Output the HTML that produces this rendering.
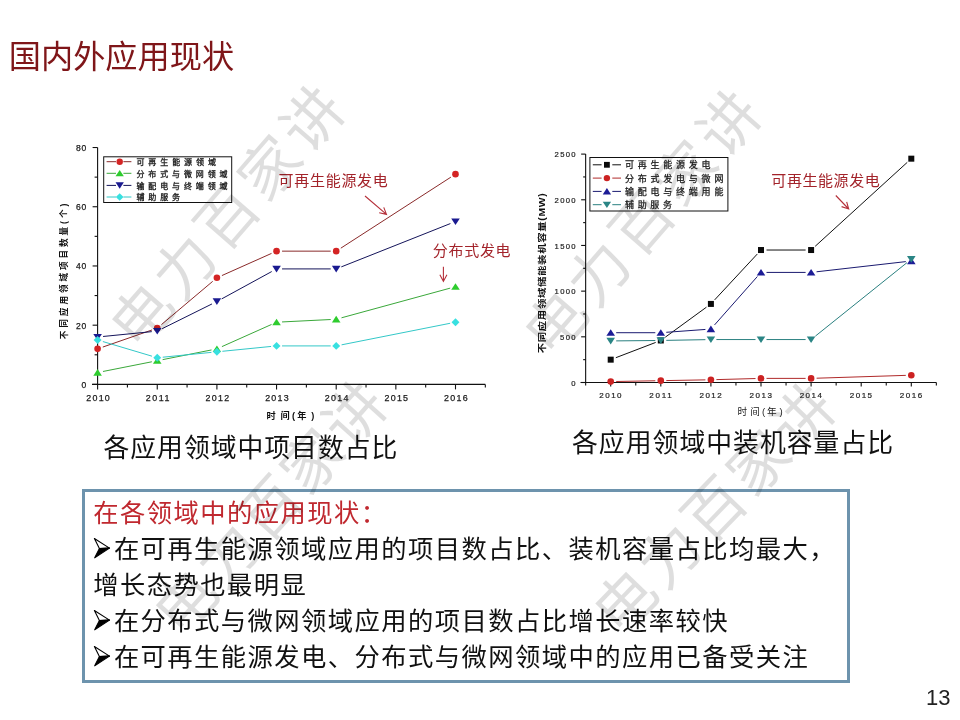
<!DOCTYPE html>
<html lang="zh-CN"><head><meta charset="utf-8"><title>国内外应用现状</title>
<style>
html,body{margin:0;padding:0;background:#fff;}
body{width:960px;height:720px;position:relative;overflow:hidden;font-family:'Liberation Sans', 'Noto Sans CJK SC', sans-serif;}
.abs{position:absolute;white-space:nowrap;}
#title{left:8.8px;top:33.8px;font-size:32.2px;line-height:46px;color:#7f1619;font-weight:400;}
.cap{font-size:25.8px;line-height:36px;color:#111;letter-spacing:1.0px;}
#box{position:absolute;left:82px;top:489px;width:762px;height:188px;border:3px solid #6d93ad;background:#fff;}
#box .ln{position:absolute;left:8.2px;font-size:25.3px;line-height:36px;color:#111;white-space:nowrap;letter-spacing:1.45px;}
#box .red{color:#c0282f;}
.arr{display:inline-block;width:20.7px;height:20px;vertical-align:top;position:relative;}
.arr svg{position:absolute;left:0;top:0;}
#pn{left:926px;top:684px;font-size:22px;line-height:28px;color:#222;}
svg.main{position:absolute;left:0;top:0;}
</style></head><body>
<div id="title" class="abs">国内外应用现状</div>
<svg class="main" width="960" height="720" viewBox="0 0 960 720">
<g stroke="#111" stroke-width="1.1" fill="none">
<path d="M97.6 147.52V384.4M92 384.4H485.32"/>
<path d="M92.6 384.4H97.6"/>
<path d="M94.6 354.79H97.6"/>
<path d="M92.6 325.18H97.6"/>
<path d="M94.6 295.57H97.6"/>
<path d="M92.6 265.96H97.6"/>
<path d="M94.6 236.35H97.6"/>
<path d="M92.6 206.74H97.6"/>
<path d="M94.6 177.13H97.6"/>
<path d="M92.6 147.52H97.6"/>
<path d="M97.6 384.4v5"/>
<path d="M127.42 384.4v3"/>
<path d="M157.25 384.4v5"/>
<path d="M187.07 384.4v3"/>
<path d="M216.9 384.4v5"/>
<path d="M246.72 384.4v3"/>
<path d="M276.55 384.4v5"/>
<path d="M306.38 384.4v3"/>
<path d="M336.2 384.4v5"/>
<path d="M366.02 384.4v3"/>
<path d="M395.85 384.4v5"/>
<path d="M425.67 384.4v3"/>
<path d="M455.5 384.4v5"/>
<path d="M485.32 384.4v3"/>
</g>
<text x="81.6" y="387.9" font-family="'Liberation Sans', sans-serif" font-size="8.5" fill="#1a1a1a" textLength="4.6" lengthAdjust="spacing" stroke="#1a1a1a" stroke-width="0.25">0</text>
<text x="76" y="328.68" font-family="'Liberation Sans', sans-serif" font-size="8.5" fill="#1a1a1a" textLength="10.2" lengthAdjust="spacing" stroke="#1a1a1a" stroke-width="0.25">20</text>
<text x="76" y="269.46" font-family="'Liberation Sans', sans-serif" font-size="8.5" fill="#1a1a1a" textLength="10.2" lengthAdjust="spacing" stroke="#1a1a1a" stroke-width="0.25">40</text>
<text x="76" y="210.24" font-family="'Liberation Sans', sans-serif" font-size="8.5" fill="#1a1a1a" textLength="10.2" lengthAdjust="spacing" stroke="#1a1a1a" stroke-width="0.25">60</text>
<text x="76" y="151.02" font-family="'Liberation Sans', sans-serif" font-size="8.5" fill="#1a1a1a" textLength="10.2" lengthAdjust="spacing" stroke="#1a1a1a" stroke-width="0.25">80</text>
<text x="86.2" y="400.9" font-family="'Liberation Sans', sans-serif" font-size="8.9" fill="#1a1a1a" textLength="23.6" lengthAdjust="spacing" stroke="#1a1a1a" stroke-width="0.25">2010</text>
<text x="145.85" y="400.9" font-family="'Liberation Sans', sans-serif" font-size="8.9" fill="#1a1a1a" textLength="23.6" lengthAdjust="spacing" stroke="#1a1a1a" stroke-width="0.25">2011</text>
<text x="205.5" y="400.9" font-family="'Liberation Sans', sans-serif" font-size="8.9" fill="#1a1a1a" textLength="23.6" lengthAdjust="spacing" stroke="#1a1a1a" stroke-width="0.25">2012</text>
<text x="265.15" y="400.9" font-family="'Liberation Sans', sans-serif" font-size="8.9" fill="#1a1a1a" textLength="23.6" lengthAdjust="spacing" stroke="#1a1a1a" stroke-width="0.25">2013</text>
<text x="324.8" y="400.9" font-family="'Liberation Sans', sans-serif" font-size="8.9" fill="#1a1a1a" textLength="23.6" lengthAdjust="spacing" stroke="#1a1a1a" stroke-width="0.25">2014</text>
<text x="384.45" y="400.9" font-family="'Liberation Sans', sans-serif" font-size="8.9" fill="#1a1a1a" textLength="23.6" lengthAdjust="spacing" stroke="#1a1a1a" stroke-width="0.25">2015</text>
<text x="444.1" y="400.9" font-family="'Liberation Sans', sans-serif" font-size="8.9" fill="#1a1a1a" textLength="23.6" lengthAdjust="spacing" stroke="#1a1a1a" stroke-width="0.25">2016</text>
<text x="266.6 280.6 292 297.3 311.2" y="419.4" font-family="'Liberation Sans', 'Noto Sans CJK SC', sans-serif" font-size="9.2" font-weight="bold" fill="#111">时间(年)</text>
<text transform="translate(66.6,339.2) rotate(-90)" font-family="'Liberation Sans', 'Noto Sans CJK SC', sans-serif" font-size="8.6" font-weight="bold" fill="#111" textLength="135.5" lengthAdjust="spacing">不同应用领域项目数量(个)</text>
<path d="M102.8 347.06L152.05 329.95M161.45 324.59L212.7 281.35M221.92 275.56L271.53 253.4M282.05 251.15L330.7 251.15M340.82 248.17L450.88 177.15" fill="none" stroke="#8a2a2a" stroke-width="1"/>
<path d="M102.99 371.48L151.86 361.78M162.64 359.64L211.51 349.94M221.92 346.62L271.53 324.46M282.04 321.95L330.71 319.53M341.51 317.81L450.19 288.14" fill="none" stroke="#3aa83a" stroke-width="1"/>
<path d="M103.07 336.48L151.78 331.65M162.18 328.66L211.97 303.94M221.73 298.86L271.72 271.56M282.05 268.92L330.7 268.92M341.31 266.89L450.39 223.57" fill="none" stroke="#14145a" stroke-width="1"/>
<path d="M102.87 341.55L151.98 356.18M162.72 357.21L211.43 352.37M222.37 351.29L271.08 346.45M282.05 345.91L330.7 345.91M341.59 344.84L450.11 323.29" fill="none" stroke="#33c8c8" stroke-width="1"/>
<circle cx="97.6" cy="348.87" r="3.3" fill="#d42424"/>
<circle cx="157.25" cy="328.14" r="3.3" fill="#d42424"/>
<circle cx="216.9" cy="277.8" r="3.3" fill="#d42424"/>
<circle cx="276.55" cy="251.15" r="3.3" fill="#d42424"/>
<circle cx="336.2" cy="251.15" r="3.3" fill="#d42424"/>
<circle cx="455.5" cy="174.17" r="3.3" fill="#d42424"/>
<polygon points="93.31,375.69 101.89,375.69 97.6,369.09" fill="#2ecc2e"/>
<polygon points="152.96,363.85 161.54,363.85 157.25,357.25" fill="#2ecc2e"/>
<polygon points="212.61,352 221.19,352 216.9,345.4" fill="#2ecc2e"/>
<polygon points="272.26,325.35 280.84,325.35 276.55,318.75" fill="#2ecc2e"/>
<polygon points="331.91,322.39 340.49,322.39 336.2,315.79" fill="#2ecc2e"/>
<polygon points="451.21,289.82 459.79,289.82 455.5,283.22" fill="#2ecc2e"/>
<polygon points="93.31,333.89 101.89,333.89 97.6,340.49" fill="#1a1a90"/>
<polygon points="152.96,327.97 161.54,327.97 157.25,334.57" fill="#1a1a90"/>
<polygon points="212.61,298.36 221.19,298.36 216.9,304.96" fill="#1a1a90"/>
<polygon points="272.26,265.79 280.84,265.79 276.55,272.39" fill="#1a1a90"/>
<polygon points="331.91,265.79 340.49,265.79 336.2,272.39" fill="#1a1a90"/>
<polygon points="451.21,218.41 459.79,218.41 455.5,225.01" fill="#1a1a90"/>
<polygon points="97.6,336.02 101.56,339.98 97.6,343.94 93.64,339.98" fill="#38e0e0"/>
<polygon points="157.25,353.79 161.21,357.75 157.25,361.71 153.29,357.75" fill="#38e0e0"/>
<polygon points="216.9,347.87 220.86,351.83 216.9,355.79 212.94,351.83" fill="#38e0e0"/>
<polygon points="276.55,341.95 280.51,345.91 276.55,349.87 272.59,345.91" fill="#38e0e0"/>
<polygon points="336.2,341.95 340.16,345.91 336.2,349.87 332.24,345.91" fill="#38e0e0"/>
<polygon points="455.5,318.26 459.46,322.22 455.5,326.18 451.54,322.22" fill="#38e0e0"/>
<rect x="103.7" y="156.8" width="128" height="45.7" fill="#fff" stroke="#111" stroke-width="1"/>
<path d="M106.6 161.7H116M123.4 161.7H131.4" stroke="#8a2a2a" stroke-width="1"/>
<circle cx="119.7" cy="161.7" r="3.2" fill="#d42424"/>
<text x="136.4" y="165" font-family="'Liberation Sans', 'Noto Sans CJK SC', sans-serif" font-size="8" fill="#1a1a1a" textLength="79.5" lengthAdjust="spacing" stroke="#1a1a1a" stroke-width="0.3">可再生能源领域</text>
<path d="M106.6 173.3H116M123.4 173.3H131.4" stroke="#3aa83a" stroke-width="1"/>
<polygon points="115.54,176.34 123.86,176.34 119.7,169.94" fill="#2ecc2e"/>
<text x="136.4" y="176.6" font-family="'Liberation Sans', 'Noto Sans CJK SC', sans-serif" font-size="8" fill="#1a1a1a" textLength="91.1" lengthAdjust="spacing" stroke="#1a1a1a" stroke-width="0.3">分布式与微网领域</text>
<path d="M106.6 185.4H116M123.4 185.4H131.4" stroke="#14145a" stroke-width="1"/>
<polygon points="115.54,182.36 123.86,182.36 119.7,188.76" fill="#1a1a90"/>
<text x="136.4" y="188.7" font-family="'Liberation Sans', 'Noto Sans CJK SC', sans-serif" font-size="8" fill="#1a1a1a" textLength="91.1" lengthAdjust="spacing" stroke="#1a1a1a" stroke-width="0.3">输配电与终端领域</text>
<path d="M106.6 197H116M123.4 197H131.4" stroke="#33c8c8" stroke-width="1"/>
<polygon points="119.7,193.16 123.54,197 119.7,200.84 115.86,197" fill="#38e0e0"/>
<text x="136.4" y="200.3" font-family="'Liberation Sans', 'Noto Sans CJK SC', sans-serif" font-size="8" fill="#1a1a1a" textLength="43.7" lengthAdjust="spacing" stroke="#1a1a1a" stroke-width="0.3">辅助服务</text>
<text x="278.6" y="186.2" font-family="'Liberation Sans', 'Noto Sans CJK SC', sans-serif" font-size="15" fill="#a3232a" textLength="109.2" lengthAdjust="spacing">可再生能源发电</text>
<text x="432.8" y="256.3" font-family="'Liberation Sans', 'Noto Sans CJK SC', sans-serif" font-size="15" fill="#a3232a" textLength="77.8" lengthAdjust="spacing">分布式发电</text>
<text x="771.3" y="186.2" font-family="'Liberation Sans', 'Noto Sans CJK SC', sans-serif" font-size="15" fill="#a3232a" textLength="108.5" lengthAdjust="spacing">可再生能源发电</text>
<path d="M365 196L386.5 214.4M379.18 212.77L386.5 214.4L383.76 207.42" stroke="#b5303a" stroke-width="1.1" fill="none"/>
<path d="M443.4 266.8L443.4 281.4M439.88 274.78L443.4 281.4L446.92 274.78" stroke="#b5303a" stroke-width="1.1" fill="none"/>
<path d="M835.8 195.5L848.7 209M841.58 206.64L848.7 209L846.67 201.78" stroke="#b5303a" stroke-width="1.1" fill="none"/>
<g stroke="#111" stroke-width="1.1" fill="none">
<path d="M585.65 154.1V382.5M580.5 382.5H936.35"/>
<path d="M581.15 382.5H585.65"/>
<path d="M583.15 359.66H585.65"/>
<path d="M581.15 336.82H585.65"/>
<path d="M583.15 313.98H585.65"/>
<path d="M581.15 291.14H585.65"/>
<path d="M583.15 268.3H585.65"/>
<path d="M581.15 245.46H585.65"/>
<path d="M583.15 222.62H585.65"/>
<path d="M581.15 199.78H585.65"/>
<path d="M583.15 176.94H585.65"/>
<path d="M581.15 154.1H585.65"/>
<path d="M585.65 382.5v3"/>
<path d="M610.7 382.5v4"/>
<path d="M635.75 382.5v3"/>
<path d="M660.8 382.5v4"/>
<path d="M685.85 382.5v3"/>
<path d="M710.9 382.5v4"/>
<path d="M735.95 382.5v3"/>
<path d="M761 382.5v4"/>
<path d="M786.05 382.5v3"/>
<path d="M811.1 382.5v4"/>
<path d="M836.15 382.5v3"/>
<path d="M861.2 382.5v4"/>
<path d="M886.25 382.5v3"/>
<path d="M911.3 382.5v4"/>
<path d="M936.35 382.5v3"/>
</g>
<text x="571.2" y="385.7" font-family="'Liberation Sans', sans-serif" font-size="7.7" fill="#222" textLength="4.4" lengthAdjust="spacing" stroke="#222" stroke-width="0.2">0</text>
<text x="560.1" y="340.02" font-family="'Liberation Sans', sans-serif" font-size="7.7" fill="#222" textLength="15.5" lengthAdjust="spacing" stroke="#222" stroke-width="0.2">500</text>
<text x="554.6" y="294.34" font-family="'Liberation Sans', sans-serif" font-size="7.7" fill="#222" textLength="21" lengthAdjust="spacing" stroke="#222" stroke-width="0.2">1000</text>
<text x="554.6" y="248.66" font-family="'Liberation Sans', sans-serif" font-size="7.7" fill="#222" textLength="21" lengthAdjust="spacing" stroke="#222" stroke-width="0.2">1500</text>
<text x="554.6" y="202.98" font-family="'Liberation Sans', sans-serif" font-size="7.7" fill="#222" textLength="21" lengthAdjust="spacing" stroke="#222" stroke-width="0.2">2000</text>
<text x="554.6" y="157.3" font-family="'Liberation Sans', sans-serif" font-size="7.7" fill="#222" textLength="21" lengthAdjust="spacing" stroke="#222" stroke-width="0.2">2500</text>
<text x="599.25" y="397.7" font-family="'Liberation Sans', sans-serif" font-size="8" fill="#222" textLength="22.3" lengthAdjust="spacing" stroke="#222" stroke-width="0.2">2010</text>
<text x="649.35" y="397.7" font-family="'Liberation Sans', sans-serif" font-size="8" fill="#222" textLength="22.3" lengthAdjust="spacing" stroke="#222" stroke-width="0.2">2011</text>
<text x="699.45" y="397.7" font-family="'Liberation Sans', sans-serif" font-size="8" fill="#222" textLength="22.3" lengthAdjust="spacing" stroke="#222" stroke-width="0.2">2012</text>
<text x="749.55" y="397.7" font-family="'Liberation Sans', sans-serif" font-size="8" fill="#222" textLength="22.3" lengthAdjust="spacing" stroke="#222" stroke-width="0.2">2013</text>
<text x="799.65" y="397.7" font-family="'Liberation Sans', sans-serif" font-size="8" fill="#222" textLength="22.3" lengthAdjust="spacing" stroke="#222" stroke-width="0.2">2014</text>
<text x="849.75" y="397.7" font-family="'Liberation Sans', sans-serif" font-size="8" fill="#222" textLength="22.3" lengthAdjust="spacing" stroke="#222" stroke-width="0.2">2015</text>
<text x="899.85" y="397.7" font-family="'Liberation Sans', sans-serif" font-size="8" fill="#222" textLength="22.3" lengthAdjust="spacing" stroke="#222" stroke-width="0.2">2016</text>
<text x="737.4 750.3 762 767 779.5" y="414.6" font-family="'Liberation Sans', 'Noto Sans CJK SC', sans-serif" font-size="9.6" fill="#222">时间(年)</text>
<text transform="translate(545.3,353.3) rotate(-90) scale(1.25,1)" font-family="'Liberation Sans', 'Noto Sans CJK SC', sans-serif" font-size="8.3" font-weight="bold" fill="#111" textLength="128" lengthAdjust="spacing">不同应用领域储能装机容量(MW)</text>
<path d="M615.84 357.69L655.66 342.44M665.24 337.23L706.46 307.17M714.64 299.9L757.26 254.06M766.5 250.03L805.6 250.03M815.16 246.32L907.24 162.37" fill="none" stroke="#111" stroke-width="1"/>
<path d="M616.2 381.49L655.3 380.77M666.3 380.57L705.4 379.86M716.4 379.61L755.5 378.54M766.5 378.39L805.6 378.39M816.6 378.21L905.8 375.37" fill="none" stroke="#b02a2a" stroke-width="1"/>
<path d="M616.2 332.71L655.3 332.71M666.29 332.31L705.41 329.45M714.54 324.93L757.36 276.53M766.5 272.41L805.6 272.41M816.56 271.79L905.84 261.61" fill="none" stroke="#1a1a70" stroke-width="1"/>
<path d="M616.2 340.88L655.3 340.52M666.3 340.37L705.4 339.66M716.4 339.56L755.5 339.56M766.5 339.56L805.6 339.56M815.39 336.12L907.01 262.61" fill="none" stroke="#2a8080" stroke-width="1"/>
<rect x="607.7" y="356.66" width="6" height="6" fill="#0a0a0a"/>
<rect x="657.8" y="337.47" width="6" height="6" fill="#0a0a0a"/>
<rect x="707.9" y="300.93" width="6" height="6" fill="#0a0a0a"/>
<rect x="758" y="247.03" width="6" height="6" fill="#0a0a0a"/>
<rect x="808.1" y="247.03" width="6" height="6" fill="#0a0a0a"/>
<rect x="908.3" y="155.67" width="6" height="6" fill="#0a0a0a"/>
<circle cx="610.7" cy="381.59" r="3.3" fill="#cc2222"/>
<circle cx="660.8" cy="380.67" r="3.3" fill="#cc2222"/>
<circle cx="710.9" cy="379.76" r="3.3" fill="#cc2222"/>
<circle cx="761" cy="378.39" r="3.3" fill="#cc2222"/>
<circle cx="811.1" cy="378.39" r="3.3" fill="#cc2222"/>
<circle cx="911.3" cy="375.19" r="3.3" fill="#cc2222"/>
<polygon points="606.41,335.84 614.99,335.84 610.7,329.24" fill="#1c1c96"/>
<polygon points="656.51,335.84 665.09,335.84 660.8,329.24" fill="#1c1c96"/>
<polygon points="706.61,332.19 715.19,332.19 710.9,325.59" fill="#1c1c96"/>
<polygon points="756.71,275.55 765.29,275.55 761,268.95" fill="#1c1c96"/>
<polygon points="806.81,275.55 815.39,275.55 811.1,268.95" fill="#1c1c96"/>
<polygon points="907.01,264.13 915.59,264.13 911.3,257.53" fill="#1c1c96"/>
<polygon points="606.41,337.8 614.99,337.8 610.7,344.4" fill="#2a8585"/>
<polygon points="656.51,337.34 665.09,337.34 660.8,343.94" fill="#2a8585"/>
<polygon points="706.61,336.43 715.19,336.43 710.9,343.03" fill="#2a8585"/>
<polygon points="756.71,336.43 765.29,336.43 761,343.03" fill="#2a8585"/>
<polygon points="806.81,336.43 815.39,336.43 811.1,343.03" fill="#2a8585"/>
<polygon points="907.01,256.03 915.59,256.03 911.3,262.63" fill="#2a8585"/>
<rect x="589.9" y="157.5" width="138" height="53.5" fill="#fff" stroke="#111" stroke-width="1"/>
<path d="M592.8 164.8H601.6M612.3 164.8H621" stroke="#111" stroke-width="1"/>
<rect x="604" y="161.9" width="5.8" height="5.8" fill="#0a0a0a"/>
<text x="624.9" y="168.4" font-family="'Liberation Sans', 'Noto Sans CJK SC', sans-serif" font-size="9" fill="#1a1a1a" textLength="85.5" lengthAdjust="spacing" stroke="#1a1a1a" stroke-width="0.25">可再生能源发电</text>
<path d="M592.8 178.1H601.6M612.3 178.1H621" stroke="#b02a2a" stroke-width="1"/>
<circle cx="606.9" cy="178.1" r="3.2" fill="#cc2222"/>
<text x="624.9" y="181.7" font-family="'Liberation Sans', 'Noto Sans CJK SC', sans-serif" font-size="9" fill="#1a1a1a" textLength="98.5" lengthAdjust="spacing" stroke="#1a1a1a" stroke-width="0.25">分布式发电与微网</text>
<path d="M592.8 191.4H601.6M612.3 191.4H621" stroke="#1a1a70" stroke-width="1"/>
<polygon points="602.74,194.44 611.06,194.44 606.9,188.04" fill="#1c1c96"/>
<text x="624.9" y="195" font-family="'Liberation Sans', 'Noto Sans CJK SC', sans-serif" font-size="9" fill="#1a1a1a" textLength="98.5" lengthAdjust="spacing" stroke="#1a1a1a" stroke-width="0.25">输配电与终端用能</text>
<path d="M592.8 204.7H601.6M612.3 204.7H621" stroke="#2a8080" stroke-width="1"/>
<polygon points="602.74,201.66 611.06,201.66 606.9,208.06" fill="#2a8585"/>
<text x="624.9" y="208.3" font-family="'Liberation Sans', 'Noto Sans CJK SC', sans-serif" font-size="9" fill="#1a1a1a" textLength="47.2" lengthAdjust="spacing" stroke="#1a1a1a" stroke-width="0.25">辅助服务</text>
</svg>
<div class="abs cap" style="left:103.5px;top:430px;">各应用领域中项目数占比</div>
<div class="abs cap" style="left:572px;top:425px;letter-spacing:1.05px;">各应用领域中装机容量占比</div>
<div id="box">
<div class="ln red" style="top:3px;">在各领域中的应用现状：</div>
<div class="ln" style="top:39px;"><span class="arr"><svg width="21" height="36" viewBox="0 0 21 36"><path d="M1.4 7.5 L16.5 17.1 L6.4 17.6 Z" fill="#fff" stroke="#000" stroke-width="1.1" stroke-linejoin="round"/><path d="M6.4 17.6 L16.5 17.1 L1.7 26.8 Z" fill="#000" stroke="#000" stroke-width="1.1" stroke-linejoin="round"/></svg></span>在可再生能源领域应用的项目数占比、装机容量占比均最大，</div>
<div class="ln" style="top:75.1px;">增长态势也最明显</div>
<div class="ln" style="top:111.2px;"><span class="arr"><svg width="21" height="36" viewBox="0 0 21 36"><path d="M1.4 7.5 L16.5 17.1 L6.4 17.6 Z" fill="#fff" stroke="#000" stroke-width="1.1" stroke-linejoin="round"/><path d="M6.4 17.6 L16.5 17.1 L1.7 26.8 Z" fill="#000" stroke="#000" stroke-width="1.1" stroke-linejoin="round"/></svg></span>在分布式与微网领域应用的项目数占比增长速率较快</div>
<div class="ln" style="top:147.3px;"><span class="arr"><svg width="21" height="36" viewBox="0 0 21 36"><path d="M1.4 7.5 L16.5 17.1 L6.4 17.6 Z" fill="#fff" stroke="#000" stroke-width="1.1" stroke-linejoin="round"/><path d="M6.4 17.6 L16.5 17.1 L1.7 26.8 Z" fill="#000" stroke="#000" stroke-width="1.1" stroke-linejoin="round"/></svg></span>在可再生能源发电、分布式与微网领域中的应用已备受关注</div>
</div>
<div id="pn" class="abs">13</div>
<svg class="main" width="960" height="720" viewBox="0 0 960 720" style="pointer-events:none">
<g font-family="'Liberation Sans', 'Noto Sans CJK SC', sans-serif" font-size="60" fill="#000" fill-opacity="0.13">
<text x="142.71" y="316.11" transform="rotate(-49 142.71 316.11)" text-anchor="middle" dominant-baseline="central">电</text>
<text x="185.36" y="267.06" transform="rotate(-49 185.36 267.06)" text-anchor="middle" dominant-baseline="central">力</text>
<text x="228" y="218" transform="rotate(-49 228 218)" text-anchor="middle" dominant-baseline="central">百</text>
<text x="270.64" y="168.94" transform="rotate(-49 270.64 168.94)" text-anchor="middle" dominant-baseline="central">家</text>
<text x="313.29" y="119.89" transform="rotate(-49 313.29 119.89)" text-anchor="middle" dominant-baseline="central">讲</text>
<text x="556.4" y="323.62" transform="rotate(-49 556.4 323.62)" text-anchor="middle" dominant-baseline="central">电</text>
<text x="599.7" y="273.81" transform="rotate(-49 599.7 273.81)" text-anchor="middle" dominant-baseline="central">力</text>
<text x="643" y="224" transform="rotate(-49 643 224)" text-anchor="middle" dominant-baseline="central">百</text>
<text x="686.3" y="174.19" transform="rotate(-49 686.3 174.19)" text-anchor="middle" dominant-baseline="central">家</text>
<text x="729.6" y="124.38" transform="rotate(-49 729.6 124.38)" text-anchor="middle" dominant-baseline="central">讲</text>
<text x="186.69" y="602.64" transform="rotate(-48 186.69 602.64)" text-anchor="middle" dominant-baseline="central">电</text>
<text x="228.84" y="555.82" transform="rotate(-48 228.84 555.82)" text-anchor="middle" dominant-baseline="central">力</text>
<text x="271" y="509" transform="rotate(-48 271 509)" text-anchor="middle" dominant-baseline="central">百</text>
<text x="313.16" y="462.18" transform="rotate(-48 313.16 462.18)" text-anchor="middle" dominant-baseline="central">家</text>
<text x="355.31" y="415.36" transform="rotate(-48 355.31 415.36)" text-anchor="middle" dominant-baseline="central">讲</text>
<text x="626.08" y="602.08" transform="rotate(-46 626.08 602.08)" text-anchor="middle" dominant-baseline="central">电</text>
<text x="670.54" y="556.04" transform="rotate(-46 670.54 556.04)" text-anchor="middle" dominant-baseline="central">力</text>
<text x="715" y="510" transform="rotate(-46 715 510)" text-anchor="middle" dominant-baseline="central">百</text>
<text x="759.46" y="463.96" transform="rotate(-46 759.46 463.96)" text-anchor="middle" dominant-baseline="central">家</text>
<text x="803.92" y="417.92" transform="rotate(-46 803.92 417.92)" text-anchor="middle" dominant-baseline="central">讲</text>
</g>
</svg>
</body></html>
